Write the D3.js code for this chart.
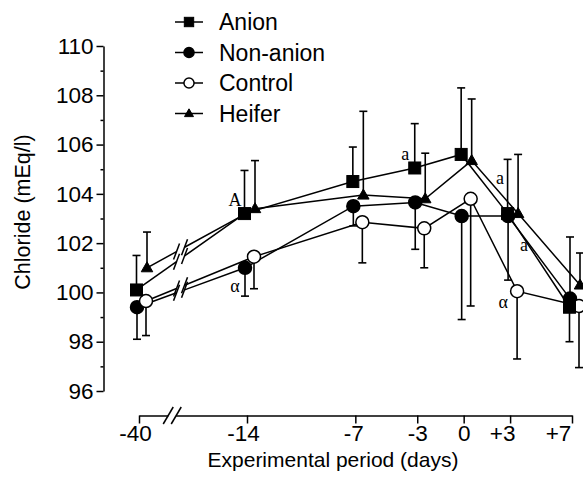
<!DOCTYPE html>
<html>
<head>
<meta charset="utf-8">
<script src="https://cdn.jsdelivr.net/npm/d3@7"></script>
<style>
body { margin: 0; background: #fff; }
svg { display: block; }
text { font-family: "Liberation Sans", Arial, sans-serif; fill: #000; }
</style>
</head>
<body>
<div id="chart"></div>
<script>
// data
var days = [-40, -14, -7, -3, 0, 3, 7];
var dayLabels = ["-40", "-14", "-7", "-3", "0", "+3", "+7"];

var anion      = [100.1, 103.2, 104.5, 105.05, 105.6, 103.2, 99.4];
var anionErr   = [1.4, 1.75, 1.4, 1.8, 2.7, 2.2, -1.4];      // + bar up, - bar down
var nonAnion    = [99.4, 101.0, 103.5, 103.65, 103.1, 103.1, 99.75];
var nonAnionErr = [-1.3, -1.15, -0.8, -1.9, -4.2, -2.6, 2.5];
var control    = [99.65, 101.45, 102.85, 102.6, 103.8, 100.05, 99.45];
var controlErr = [-1.4, -1.3, -1.65, -1.6, -4.35, -2.75, -2.5];
var heifer     = [101.0, 103.4, 103.95, 103.8, 105.35, 103.2, 100.3];
var heiferErr  = [1.45, 1.95, 3.4, 1.85, 2.5, 2.4, 1.3];

var yTicks = d3.range(96, 111, 2);
var yMinor = d3.range(97, 110, 2);

// significance letters: series, day, text
var notes = [
  {s: "Anion", day: -14, text: "A", dx: -12, dy: -14},
  {s: "Non-anion", day: -14, text: "\u03b1", dx: -12, dy: 18},
  {s: "Anion", day: -3, text: "a", dx: -12, dy: -14},
  {s: "Anion", day: 3, text: "a", dx: -10, dy: -36},
  {s: "Non-anion", day: 3, text: "a", dx: 14, dy: 29},
  {s: "Control", day: 3, text: "\u03b1", dx: -7, dy: 11}
];

var series = [
  {name: "Non-anion", v: nonAnion, e: nonAnionErr, shape: "circle", fill: "#000", off: -2},
  {name: "Control", v: control, e: controlErr, shape: "circle", fill: "#fff", off: 7},
  {name: "Heifer", v: heifer, e: heiferErr, shape: "triangle", fill: "#000", off: 8},
  {name: "Anion", v: anion, e: anionErr, shape: "square", fill: "#000", off: -2.5}
];
var legendOrder = ["Anion", "Non-anion", "Control", "Heifer"];
var labelShift = [-4, -4, -2, 0, 0, -8, -14];   // tick labels sit a little left in the original

var W = 583, H = 477;
var svg = d3.select("#chart").append("svg").attr("width", W).attr("height", H);

var x = d3.scaleLinear().domain([-40, -14, 7]).range([139, 247, 572]);
var y = d3.scaleLinear().domain([96, 110]).range([391, 46]);

// y axis
svg.append("g").attr("transform", "translate(103.5,0)")
  .call(d3.axisLeft(y).tickValues(yTicks).tickSize(7).tickSizeOuter(0).tickPadding(3).tickFormat(d3.format("d")));
svg.append("g").attr("transform", "translate(103.5,0)")
  .call(d3.axisLeft(y).tickValues(yMinor).tickSize(3).tickSizeOuter(0).tickFormat(""))
  .select(".domain").remove();

// x axis
var xAxis = svg.append("g").attr("transform", "translate(0,415.5)")
  .call(d3.axisBottom(x).tickValues(days).tickSize(8).tickSizeOuter(0).tickPadding(2)
    .tickFormat(function (d, i) { return dayLabels[i]; }));
xAxis.selectAll(".tick text").attr("dx", function (d, i) { return labelShift[i]; });

svg.selectAll(".tick text").attr("font-size", 22.5).attr("font-family", "'Liberation Sans', Arial, sans-serif");
svg.selectAll(".domain, .tick line").attr("stroke", "#000").attr("stroke-width", 1.5);

// axis break
var bx = x(-32);
svg.append("rect").attr("x", bx - 4).attr("y", 410).attr("width", 8).attr("height", 11).attr("fill", "#fff");
[-4, 4].forEach(function (d) {
  svg.append("line").attr("x1", bx + d - 5).attr("y1", 424).attr("x2", bx + d + 5).attr("y2", 407)
    .attr("stroke", "#000").attr("stroke-width", 1.5);
});

// titles
svg.append("text").attr("x", 333).attr("y", 467).attr("text-anchor", "middle")
  .attr("font-size", 21).text("Experimental period (days)");
svg.append("text").attr("transform", "translate(30,212) rotate(-90)").attr("text-anchor", "middle")
  .attr("font-size", 21.5).text("Chloride (mEq/l)");

function px(s, i) { return x(days[i]) + s.off; }

function marker(g, shape, fill, cx, cy, k) {
  if (shape === "square") {
    g.append("rect").attr("x", cx - 6 * k).attr("y", cy - 6 * k).attr("width", 12 * k).attr("height", 12 * k)
      .attr("fill", fill).attr("stroke", "#000").attr("stroke-width", 1);
  } else if (shape === "circle") {
    g.append("circle").attr("cx", cx).attr("cy", cy).attr("r", 6.5 * k)
      .attr("fill", fill).attr("stroke", "#000").attr("stroke-width", 1.5);
  } else {
    var h = 10 * k, w = 11.5 * k;
    g.append("path").attr("d", "M" + cx + "," + (cy - h * 0.6) + "L" + (cx + w / 2) + "," + (cy + h * 0.4) +
      "L" + (cx - w / 2) + "," + (cy + h * 0.4) + "Z").attr("fill", fill).attr("stroke", "#000").attr("stroke-width", 1);
  }
}

var breakX = x(-30);
var plot = svg.append("g");

// lines (with break between -40 and -14)
series.forEach(function (s) {
  var pts = s.v.map(function (v, i) { return [px(s, i), y(v)]; });
  var p0 = pts[0], p1 = pts[1];
  function at(xx) { var t = (xx - p0[0]) / (p1[0] - p0[0]); return [xx, p0[1] + t * (p1[1] - p0[1])]; }
  var a = at(breakX - 4), b = at(breakX + 4);
  var g = plot.append("g").attr("stroke", "#000").attr("stroke-width", 1.5).attr("fill", "none");
  g.append("path").attr("d", d3.line()([p0, a]));
  g.append("path").attr("d", d3.line()([b].concat(pts.slice(1))));
  [a, b].forEach(function (p) {
    g.append("line").attr("x1", p[0] - 3).attr("y1", p[1] + 8).attr("x2", p[0] + 3).attr("y2", p[1] - 8);
  });
});

// error bars
series.forEach(function (s) {
  var g = plot.append("g").attr("stroke", "#000").attr("stroke-width", 1.6);
  s.v.forEach(function (v, i) {
    var cx = px(s, i), y0 = y(v), y1 = y(v + s.e[i]);
    g.append("line").attr("x1", cx).attr("x2", cx).attr("y1", y0).attr("y2", y1);
    g.append("line").attr("x1", cx - 4).attr("x2", cx + 4).attr("y1", y1).attr("y2", y1);
  });
});

// markers
series.forEach(function (s) {
  var g = plot.append("g");
  s.v.forEach(function (v, i) { marker(g, s.shape, s.fill, px(s, i), y(v), 1); });
});

// letters
notes.forEach(function (n) {
  var s = series.filter(function (d) { return d.name === n.s; })[0];
  var i = days.indexOf(n.day);
  svg.append("text").attr("x", x(n.day) + n.dx).attr("y", y(s.v[i]) + n.dy)
    .attr("text-anchor", "middle").attr("dominant-baseline", "central")
    .style("font-family", "'Liberation Serif', 'Times New Roman', serif").attr("font-size", 18).text(n.text);
});

// legend
var leg = svg.append("g");
legendOrder.forEach(function (name, i) {
  var s = series.filter(function (d) { return d.name === name; })[0];
  var ly = 22 + i * 30.5;
  leg.append("line").attr("x1", 175).attr("x2", 203).attr("y1", ly).attr("y2", ly)
    .attr("stroke", "#000").attr("stroke-width", 1.5);
  marker(leg, s.shape, s.fill, 189, ly, 0.78);
  leg.append("text").attr("x", 219).attr("y", ly).attr("dominant-baseline", "central")
    .attr("font-size", 23).text(name);
});
</script>
</body>
</html>
